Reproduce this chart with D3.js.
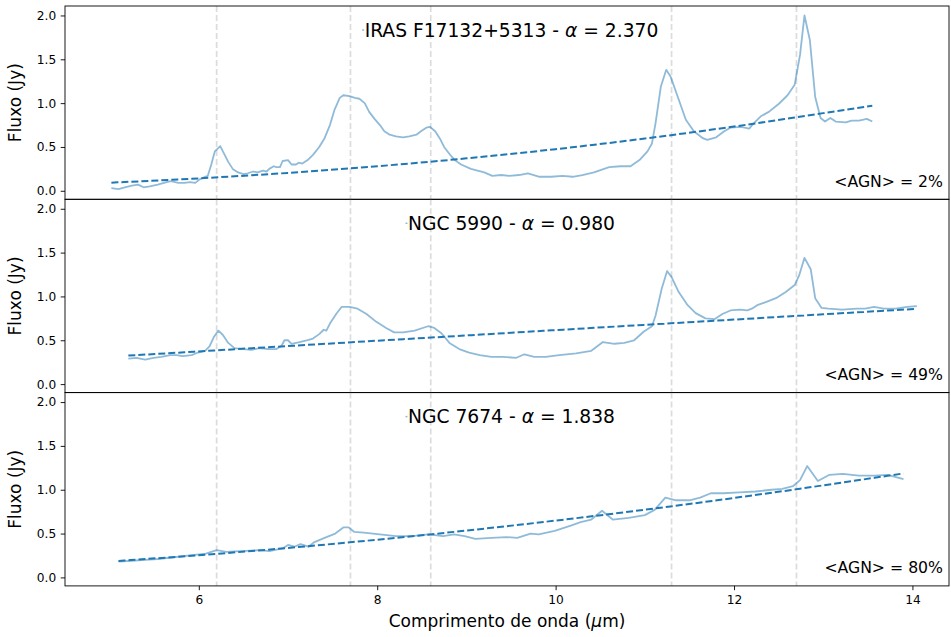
<!DOCTYPE html>
<html>
<head>
<meta charset="utf-8">
<script src="https://cdn.jsdelivr.net/npm/d3@7"></script>
<style>
  body { margin: 0; background: #fff; }
  svg { display: block; font-family: "DejaVu Sans", sans-serif; }
</style>
</head>
<body>
<svg id="chart" width="951" height="637"></svg>
<script>
// Spectra (wavelength in um, flux in Jy)
const irasWave = [5.02, 5.10, 5.17, 5.25, 5.32, 5.38, 5.45, 5.54, 5.64, 5.69, 5.77, 5.84, 5.90, 5.96, 6.01, 6.07, 6.10, 6.14, 6.18, 6.24, 6.28, 6.33, 6.38, 6.44, 6.50, 6.55, 6.61, 6.66, 6.72, 6.76, 6.79, 6.84, 6.87, 6.91, 6.94, 7.00, 7.04, 7.09, 7.12, 7.16, 7.22, 7.28, 7.35, 7.41, 7.47, 7.52, 7.58, 7.62, 7.69, 7.75, 7.80, 7.86, 7.91, 7.97, 8.03, 8.08, 8.14, 8.21, 8.29, 8.36, 8.44, 8.49, 8.55, 8.59, 8.65, 8.70, 8.75, 8.81, 8.87, 8.94, 9.05, 9.20, 9.29, 9.39, 9.48, 9.59, 9.69, 9.82, 9.95, 10.08, 10.19, 10.30, 10.43, 10.60, 10.73, 10.84, 10.94, 11.03, 11.08, 11.12, 11.18, 11.24, 11.29, 11.37, 11.46, 11.55, 11.65, 11.70, 11.80, 11.89, 11.96, 12.08, 12.17, 12.22, 12.30, 12.39, 12.50, 12.60, 12.68, 12.74, 12.79, 12.85, 12.91, 12.97, 13.02, 13.08, 13.14, 13.25, 13.32, 13.40, 13.49, 13.55]
const irasFlux = [0.03, 0.02, 0.04, 0.06, 0.07, 0.04, 0.05, 0.07, 0.10, 0.11, 0.09, 0.09, 0.10, 0.09, 0.13, 0.16, 0.17, 0.30, 0.45, 0.51, 0.43, 0.33, 0.25, 0.21, 0.19, 0.20, 0.22, 0.21, 0.23, 0.22, 0.25, 0.28, 0.27, 0.27, 0.34, 0.35, 0.30, 0.30, 0.32, 0.31, 0.35, 0.41, 0.50, 0.60, 0.75, 0.92, 1.06, 1.09, 1.08, 1.06, 1.05, 1.00, 0.90, 0.82, 0.75, 0.68, 0.64, 0.62, 0.61, 0.62, 0.64, 0.68, 0.72, 0.73, 0.68, 0.60, 0.50, 0.42, 0.35, 0.30, 0.25, 0.21, 0.17, 0.18, 0.17, 0.18, 0.20, 0.16, 0.16, 0.17, 0.16, 0.18, 0.21, 0.27, 0.28, 0.28, 0.35, 0.45, 0.54, 0.77, 1.19, 1.38, 1.30, 1.07, 0.81, 0.68, 0.60, 0.58, 0.61, 0.68, 0.72, 0.73, 0.71, 0.77, 0.85, 0.90, 0.99, 1.09, 1.21, 1.55, 2.00, 1.72, 1.07, 0.83, 0.79, 0.83, 0.79, 0.78, 0.80, 0.80, 0.82, 0.79]

const ngc5990Wave = [5.21, 5.30, 5.40, 5.49, 5.58, 5.68, 5.75, 5.82, 5.92, 5.99, 6.07, 6.12, 6.17, 6.22, 6.27, 6.33, 6.40, 6.50, 6.59, 6.68, 6.78, 6.87, 6.93, 6.96, 7.00, 7.04, 7.13, 7.21, 7.28, 7.35, 7.40, 7.43, 7.47, 7.54, 7.60, 7.69, 7.78, 7.88, 7.99, 8.10, 8.19, 8.29, 8.42, 8.57, 8.64, 8.72, 8.81, 8.92, 9.03, 9.15, 9.28, 9.41, 9.56, 9.65, 9.76, 9.89, 10.04, 10.23, 10.40, 10.53, 10.66, 10.77, 10.88, 10.99, 11.08, 11.12, 11.19, 11.25, 11.30, 11.38, 11.48, 11.57, 11.68, 11.78, 11.87, 11.96, 12.06, 12.15, 12.20, 12.26, 12.37, 12.47, 12.58, 12.68, 12.73, 12.79, 12.86, 12.91, 12.98, 13.06, 13.21, 13.38, 13.47, 13.57, 13.68, 13.81, 13.94, 14.05]
const ngc5990Flux = [0.29, 0.30, 0.28, 0.30, 0.31, 0.33, 0.33, 0.32, 0.33, 0.36, 0.38, 0.43, 0.54, 0.61, 0.56, 0.47, 0.41, 0.40, 0.39, 0.41, 0.40, 0.40, 0.44, 0.50, 0.50, 0.46, 0.48, 0.50, 0.52, 0.57, 0.62, 0.61, 0.69, 0.80, 0.88, 0.88, 0.86, 0.80, 0.71, 0.64, 0.59, 0.59, 0.61, 0.66, 0.64, 0.58, 0.47, 0.40, 0.36, 0.33, 0.31, 0.31, 0.30, 0.34, 0.31, 0.31, 0.33, 0.35, 0.38, 0.48, 0.46, 0.47, 0.50, 0.60, 0.66, 0.78, 1.09, 1.29, 1.22, 1.05, 0.90, 0.81, 0.75, 0.74, 0.80, 0.84, 0.85, 0.84, 0.86, 0.90, 0.94, 0.98, 1.05, 1.13, 1.24, 1.44, 1.31, 0.98, 0.87, 0.86, 0.85, 0.86, 0.86, 0.88, 0.86, 0.86, 0.88, 0.89]

const ngc7674Wave = [5.10, 5.25, 5.40, 5.54, 5.72, 5.90, 6.08, 6.20, 6.31, 6.46, 6.67, 6.79, 6.94, 7.00, 7.07, 7.14, 7.23, 7.29, 7.41, 7.53, 7.62, 7.68, 7.74, 7.85, 8.03, 8.21, 8.39, 8.57, 8.74, 8.86, 8.98, 9.10, 9.28, 9.45, 9.57, 9.72, 9.81, 9.99, 10.17, 10.28, 10.40, 10.52, 10.64, 10.82, 11.00, 11.11, 11.23, 11.35, 11.50, 11.62, 11.74, 11.88, 12.06, 12.24, 12.42, 12.54, 12.66, 12.74, 12.82, 12.94, 13.07, 13.22, 13.40, 13.57, 13.72, 13.90]
const ngc7674Flux = [0.18, 0.19, 0.20, 0.21, 0.23, 0.25, 0.27, 0.31, 0.29, 0.30, 0.31, 0.30, 0.33, 0.37, 0.35, 0.38, 0.35, 0.40, 0.45, 0.50, 0.57, 0.57, 0.52, 0.51, 0.49, 0.47, 0.47, 0.49, 0.47, 0.49, 0.47, 0.44, 0.45, 0.46, 0.45, 0.50, 0.49, 0.53, 0.59, 0.63, 0.66, 0.76, 0.66, 0.68, 0.71, 0.77, 0.91, 0.88, 0.88, 0.91, 0.96, 0.96, 0.97, 0.98, 1.00, 1.01, 1.04, 1.11, 1.27, 1.10, 1.17, 1.18, 1.16, 1.16, 1.17, 1.12]

// Power-law continuum fits (dashed), read at a few wavelengths
const irasFitWave = [5.02, 6, 7, 8, 9, 10, 11, 12, 13, 13.55]
const irasFitFlux = [0.093, 0.142, 0.204, 0.280, 0.370, 0.475, 0.596, 0.733, 0.886, 0.97]
const ngc5990FitWave = [5.21, 6, 7, 8, 9, 10, 11, 12, 13, 14.05]
const ngc5990FitFlux = [0.325, 0.373, 0.434, 0.495, 0.555, 0.616, 0.676, 0.736, 0.796, 0.859]
const ngc7674FitWave = [5.10, 6, 7, 8, 9, 10, 11, 12, 13, 13.90]
const ngc7674FitFlux = [0.188, 0.253, 0.336, 0.430, 0.534, 0.648, 0.772, 0.906, 1.050, 1.186]

const names = ["IRAS F17132+5313", "NGC 5990", "NGC 7674"]
const alphas = ["2.370", "0.980", "1.838"]
const agnFractions = ["2%", "49%", "80%"]
const pahLines = [6.2, 7.7, 8.6, 11.3, 12.7]
const yTicks = [0.0, 0.5, 1.0, 1.5, 2.0]
const xTicks = [6, 8, 10, 12, 14]

const spectra = [
  { wave: irasWave, flux: irasFlux, fitWave: irasFitWave, fitFlux: irasFitFlux },
  { wave: ngc5990Wave, flux: ngc5990Flux, fitWave: ngc5990FitWave, fitFlux: ngc5990FitFlux },
  { wave: ngc7674Wave, flux: ngc7674Flux, fitWave: ngc7674FitWave, fitFlux: ngc7674FitFlux }
]

const left = 65
const right = 949
const top0 = 6
const panelH = 193.3

const svg = d3.select("#chart")

const x = d3.scaleLinear().domain([4.5, 14.41]).range([left, right])
const y = d3.scaleLinear().domain([-0.097, 2.108]).range([panelH, 0])

const specLine = d3.line().x(d => x(d[0])).y(d => y(d[1]))
const fitLine = d3.line().x(d => x(d[0])).y(d => y(d[1])).curve(d3.curveMonotoneX)

spectra.forEach((s, i) => {
  const g = svg.append("g").attr("transform", `translate(0,${top0 + panelH * i})`)

  // PAH feature markers
  g.selectAll("line.pah")
    .data(pahLines)
    .join("line")
    .attr("class", "pah")
    .attr("x1", d => x(d)).attr("x2", d => x(d))
    .attr("y1", 0).attr("y2", panelH)
    .attr("stroke", "#d3d3d3")
    .attr("stroke-opacity", 0.8)
    .attr("stroke-width", 1.7)
    .attr("stroke-dasharray", "6,3")

  g.append("path")
    .attr("d", specLine(d3.zip(s.wave, s.flux)))
    .attr("fill", "none")
    .attr("stroke", "#1f77b4")
    .attr("stroke-opacity", 0.5)
    .attr("stroke-width", 1.8)
    .attr("stroke-linejoin", "round")

  g.append("path")
    .attr("d", fitLine(d3.zip(s.fitWave, s.fitFlux)))
    .attr("fill", "none")
    .attr("stroke", "#1f77b4")
    .attr("stroke-width", 2)
    .attr("stroke-dasharray", "7,3")

  // y axis
  const ya = g.append("g")
    .attr("transform", `translate(${left},0)`)
    .call(d3.axisLeft(y).tickValues(yTicks).tickFormat(d3.format(".1f")).tickSize(4.3).tickPadding(4.5))
  ya.select(".domain").remove()
  ya.selectAll("text").attr("font-size", "12.2px").attr("fill", "#000").attr("font-family", "DejaVu Sans")
  ya.selectAll("line").attr("stroke", "#000").attr("stroke-width", 0.9)

  g.append("text")
    .attr("transform", `translate(20.5,${panelH / 2}) rotate(-90)`)
    .attr("text-anchor", "middle")
    .attr("font-size", "17px")
    .text("Fluxo (Jy)")

  // legend-like title
  const t = g.append("text")
    .attr("x", 511.5)
    .attr("y", 30.7)
    .attr("text-anchor", "middle")
    .attr("font-size", "18.7px")
  t.append("tspan").text(`${names[i]} - `)
  t.append("tspan").attr("font-style", "italic").text("α")
  t.append("tspan").text(` = ${alphas[i]}`)
  const tw = t.node().getComputedTextLength()
  g.append("line")
    .attr("x1", 511.5 - tw / 2 - 2.5).attr("x2", 511.5 - tw / 2 - 0.5)
    .attr("y1", 24).attr("y2", 24)
    .attr("stroke", "#8fbbd9").attr("stroke-width", 1.5)

  g.append("text")
    .attr("x", 943)
    .attr("y", panelH - 12.5)
    .attr("text-anchor", "end")
    .attr("font-size", "15.7px")
    .text(`<AGN> = ${agnFractions[i]}`)

  g.append("rect")
    .attr("x", left).attr("y", 0)
    .attr("width", right - left).attr("height", panelH)
    .attr("fill", "none")
    .attr("stroke", "#000")
    .attr("stroke-width", 0.9)

  if (i === spectra.length - 1) {
    const xa = g.append("g")
      .attr("transform", `translate(0,${panelH})`)
      .call(d3.axisBottom(x).tickValues(xTicks).tickSize(4.3).tickPadding(5.5))
    xa.select(".domain").remove()
    xa.selectAll("text").attr("font-size", "12.2px").attr("fill", "#000").attr("font-family", "DejaVu Sans")
    xa.selectAll("line").attr("stroke", "#000").attr("stroke-width", 0.9)
  }
})

const xl = svg.append("text")
  .attr("x", (left + right) / 2)
  .attr("y", 627)
  .attr("text-anchor", "middle")
  .attr("font-size", "17px")
xl.append("tspan").text("Comprimento de onda (")
xl.append("tspan").attr("font-style", "italic").text("μ")
xl.append("tspan").text("m)")
</script>
</body>
</html>
